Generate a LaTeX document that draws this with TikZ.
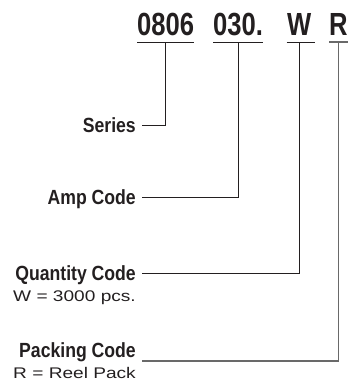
\documentclass[tikz,border=0pt]{standalone}
\usepackage{fontspec}
\usepackage{tikz}
\usetikzlibrary{positioning, calc}
\newfontfamily\codefont{Liberation Sans}[FakeStretch=0.80]
\newfontfamily\labelfont{Liberation Sans}[FakeStretch=0.86]
\newfontfamily\notefont{Liberation Sans}[FakeStretch=1.24]
\definecolor{mydark}{RGB}{35,31,32}
\definecolor{mygray}{RGB}{105,105,105}
\tikzset{
  part/.style={inner xsep=0pt, inner ysep=7pt, anchor=base west,
    font=\codefont\bfseries\fontsize{32}{32}\selectfont, text=mydark},
  tag/.style={inner sep=0pt, text height=14pt, text depth=0pt, anchor=east,
    font=\labelfont\bfseries\fontsize{20.5}{21}\selectfont, text=mydark},
  note/.style={inner sep=0pt, anchor=base east,
    font=\notefont\fontsize{15.4}{16}\selectfont, text=mydark},
  line/.style={line width=0.9pt, color=mydark},
  grayline/.style={line width=1.6pt, color=mygray}
}
\begin{document}
\begin{tikzpicture}[x=1pt, y=-1pt]
  \useasboundingbox (0,0) rectangle (357,381);

  % part number
  \node[part] (ser) at (137,35) {0806};
  \node[part] (amp) at (213,35) {030.};
  \node[part] (qty) at (287,35) {W};
  \node[part] (pck) at (329,35) {R};

  \draw[line] (ser.south west) -- (ser.south east);
  \draw[line] (amp.south west) -- (amp.south east);
  \draw[line] ([xshift=-0.5pt]qty.south west) -- ([xshift=3pt]qty.south east);
  \draw[grayline] (pck.south west) -- (pck.south east);

  % labels
  \node[tag] (series) at (136,125) {Series};
  \node[tag] (ampcode) at (136,197) {Amp Code};
  \node[tag] (qtycode) at (136,273) {Quantity Code};
  \node[tag] (pckcode) at (136,350) {Packing Code};
  \node[note] (qtynote) at ([yshift=-21pt]qtycode.base east) {W = 3000 pcs.};
  \node[note] (pcknote) at ([yshift=-21pt]pckcode.base east) {R = Reel Pack};

  % connectors
  \draw[line] (ser.south) |- ([xshift=6pt]series.east);
  \draw[line] (amp.south) |- ([xshift=6pt]ampcode.east);
  \draw[line] (qty.south) |- ([xshift=6pt]qtycode.east);
  \draw[grayline] (pck.south) |- ([xshift=6pt, yshift=-4pt]pckcode.base east);
\end{tikzpicture}
\end{document}
